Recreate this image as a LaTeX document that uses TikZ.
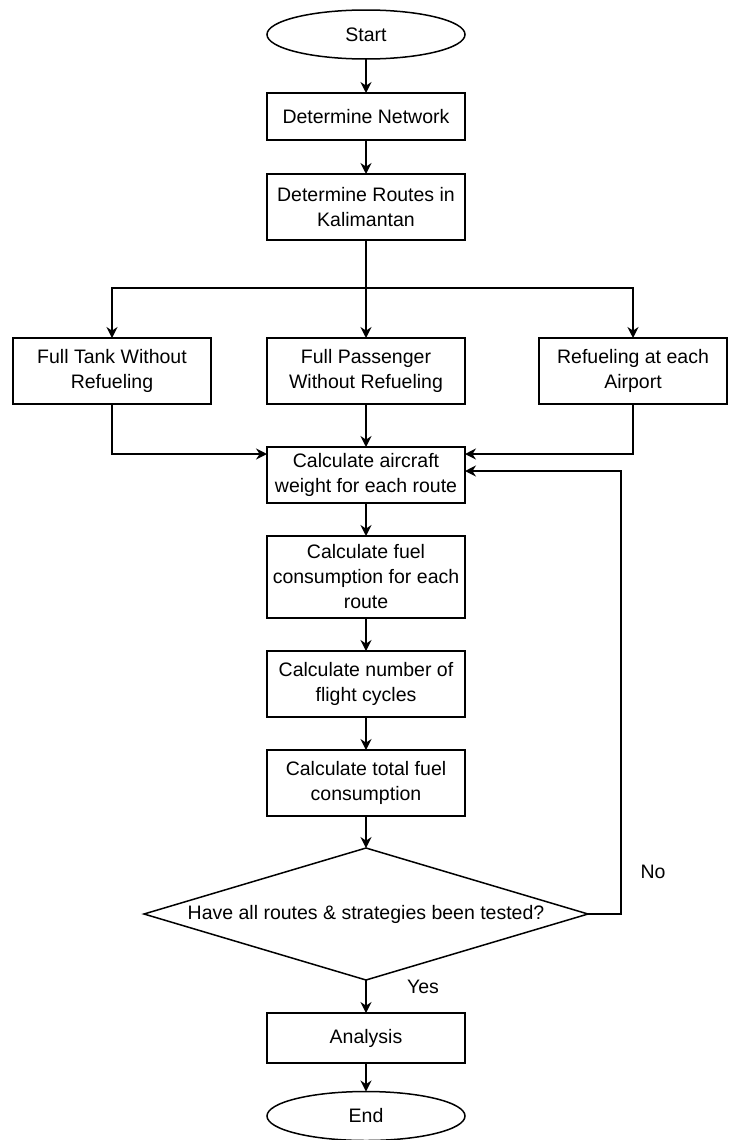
\documentclass[tikz,border=0pt]{standalone}
\usepackage{fontspec}
\setmainfont{Liberation Sans}
\usetikzlibrary{shapes.geometric,arrows.meta}

\begin{document}
\begin{tikzpicture}[x=0.5pt,y=-0.5pt,
  every node/.style={font=\fontsize{9.75}{12.5}\selectfont, align=center, inner sep=0pt, outer sep=0pt},
  proc/.style={draw, line width=0.75pt, minimum width=99pt, minimum height=#1},
  proc/.default=33pt,
  term/.style={draw, ellipse, line width=0.75pt, minimum width=99pt, minimum height=24.5pt},
  decision/.style={draw, diamond, aspect=3.36, line width=0.75pt, minimum width=222pt, minimum height=66pt},
  arr/.style={-{Stealth[length=5.5pt,width=5.5pt]}, line width=0.75pt}]
  \useasboundingbox (0,0) rectangle (728,1140);

  \node[term] (start) at (366,34.5) {Start};
  \node[proc=23.5pt] (net) at (366,116.5) {Determine Network};
  \node[proc] (routes) at (366,207) {Determine Routes in\\Kalimantan};
  \node[proc] (tank) at (112,371) {Full Tank Without\\Refueling};
  \node[proc] (pass) at (366,371) {Full Passenger\\Without Refueling};
  \node[proc, minimum width=94pt] (refuel) at (633,371) {Refueling at each\\Airport};
  \node[proc=28pt] (weight) at (366,475) {Calculate aircraft\\weight for each route};
  \node[proc=41pt] (fuel) at (366,577) {Calculate fuel\\consumption for each\\route};
  \node[proc] (cycles) at (366,684) {Calculate number of\\flight cycles};
  \node[proc] (total) at (366,783) {Calculate total fuel\\consumption};
  \node[decision] (check) at (366,914) {Have all routes \& strategies been tested?};
  \node[proc=25pt] (analysis) at (366,1038) {Analysis};
  \node[term] (stop) at (366,1116) {End};
  \node (yes) at (423,987) {Yes};
  \node (no) at (653,872) {No};

  \coordinate (split) at (366,288);
  \foreach \a/\b in {start/net, net/routes, routes/pass, pass/weight, weight/fuel,
                     fuel/cycles, cycles/total, total/check, check/analysis, analysis/stop}
    \draw[arr] (\a) -- (\b);
  \draw[arr] (split) -| (tank);
  \draw[arr] (split) -| (refuel);
  \draw[arr] (tank) |- ([yshift=10.5pt]weight.west);
  \draw[arr] (refuel) |- ([yshift=10.5pt]weight.east);
  \draw[arr] (check.east) -- ++(33,0) |- ([yshift=2pt]weight.east);
\end{tikzpicture}
\end{document}
